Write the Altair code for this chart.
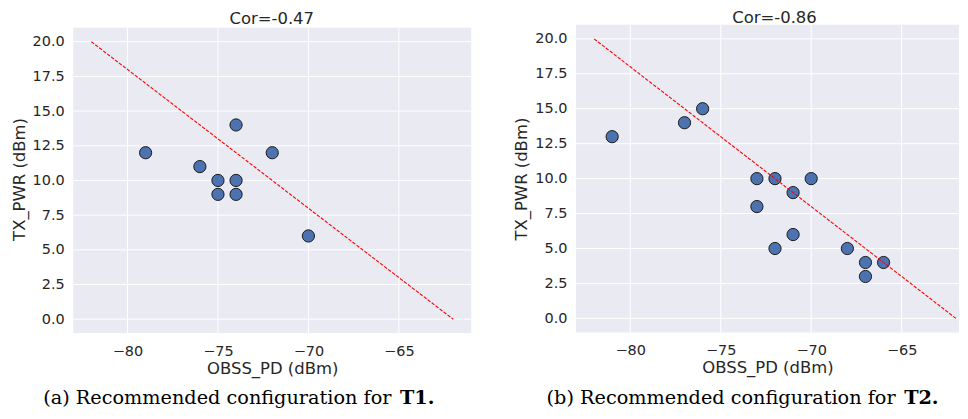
import altair as alt
import pandas as pd

# ---- data ----
t1_obss = [-79, -76, -75, -75, -74, -74, -74, -72, -70]
t1_pwr = [12, 11, 10, 9, 14, 10, 9, 12, 6]
t2_obss = [-81, -77, -76, -73, -73, -72, -72, -71, -71, -70, -68, -67, -67, -66]
t2_pwr = [13, 14, 15, 10, 8, 10, 5, 9, 6, 10, 5, 4, 3, 4]
fit_obss = [-82, -62]
fit_pwr = [20, 0]
titles = ["Cor=-0.47", "Cor=-0.86"]
caption_prefix = ["(a) Recommended configuration for", "(b) Recommended configuration for"]
caption_bold = ["T1.", "T2."]
x_ticks = [-80, -75, -70, -65]
y_ticks = [0, 2.5, 5, 7.5, 10, 12.5, 15, 17.5, 20]
x_domain = [-83, -61]
y_domain = [-1, 21]

TEXT = "#262626"
FONT = "DejaVu Sans"
SERIF = "DejaVu Serif"
BG = "#EAEAF2"


def panel(obss, pwr, title, prefix, bold, width, height, x_view_max, y_view_max,
          title_y, cap_x, cap_y):
    pts = pd.DataFrame({"obss": obss, "pwr": pwr})
    fit = pd.DataFrame({"obss": fit_obss, "pwr": fit_pwr})
    one = pd.DataFrame({"k": [0]})
    x_end = min(x_domain[1], x_view_max)
    xs = alt.Scale(domain=[x_domain[0], x_view_max], nice=False, zero=False)
    ys = alt.Scale(domain=[y_domain[0], y_view_max], nice=False, zero=False)
    xa = alt.Axis(values=x_ticks, title="OBSS_PD (dBm)",
                  labelExpr="replace(format(datum.value, 'd'), '-', '\u2212')")
    ya = alt.Axis(values=y_ticks, format=".1f", title="TX_PWR (dBm)")

    def xf(f):
        return alt.X(f, type="quantitative", scale=xs, axis=xa)

    def yf(f):
        return alt.Y(f, type="quantitative", scale=ys, axis=ya)

    def xd(v):
        return alt.X(datum=v, type="quantitative", scale=xs, axis=xa)

    def yd(v):
        return alt.Y(datum=v, type="quantitative", scale=ys, axis=ya)

    bg = alt.Chart(one).mark_rect(color=BG).encode(
        x=xd(x_domain[0]), x2=alt.X2(datum=x_end),
        y=yd(y_domain[0]), y2=alt.Y2(datum=y_domain[1]))
    vgrid = alt.Chart(pd.DataFrame({"v": x_ticks})).mark_rule(
        color="white", strokeWidth=1).encode(
        x=xf("v"), y=yd(y_domain[0]), y2=alt.Y2(datum=y_domain[1]))
    hgrid = alt.Chart(pd.DataFrame({"h": y_ticks})).mark_rule(
        color="white", strokeWidth=1).encode(
        y=yf("h"), x=xd(x_domain[0]), x2=alt.X2(datum=x_end))
    points = alt.Chart(pts).mark_circle(
        size=150, color="#4C72B0", opacity=1, stroke="#1a1a1a", strokeWidth=1
    ).encode(x=xf("obss"), y=yf("pwr"))
    line = alt.Chart(fit).mark_line(
        color="#ff0000", strokeWidth=1.1, strokeDash=[3.5, 1.5]
    ).encode(x=xf("obss"), y=yf("pwr"))
    ttl = alt.Chart(pd.DataFrame({"t": [title]})).mark_text(
        align="center", baseline="alphabetic", font=FONT, fontSize=16.5, color=TEXT
    ).encode(text="t:N", x=alt.value(199), y=alt.value(title_y))
    cap_a = alt.Chart(pd.DataFrame({"t": [prefix]})).mark_text(
        align="right", baseline="alphabetic", font=SERIF, fontSize=19.3, color="black"
    ).encode(text="t:N", x=alt.value(cap_x), y=alt.value(cap_y))
    cap_b = alt.Chart(pd.DataFrame({"t": [bold]})).mark_text(
        align="left", baseline="alphabetic", font=SERIF, fontSize=19.3,
        fontWeight="bold", color="black", dx=8.5
    ).encode(text="t:N", x=alt.value(cap_x), y=alt.value(cap_y))
    return alt.layer(bg, vgrid, hgrid, points, line, ttl, cap_a, cap_b).properties(
        width=width, height=height)


# left panel: a little white above its grey area, so that it sits lower than the right one
left = panel(t1_obss, t1_pwr, titles[0], caption_prefix[0], caption_bold[0],
             399, 309, -61, 21.216, -1.3, 319, 380)
right = panel(t2_obss, t2_pwr, titles[1], caption_prefix[1], caption_bold[1],
              384, 308.3, -61.83, 21, -2.3, 320.5, 380)

chart = alt.hconcat(left, right, spacing=41).properties(
    padding={"left": 2.4, "top": 0.4, "right": 0, "bottom": 0}
).configure(background="white").configure_view(
    strokeWidth=0
).configure_axis(
    grid=False, domain=False, ticks=False, tickSize=0,
    labelFont=FONT, labelFontSize=14.5, labelColor=TEXT, labelPadding=9,
    titleFont=FONT, titleFontSize=16.5, titleFontWeight="normal", titleColor=TEXT,
).configure_axisX(labelPadding=11, titlePadding=3).configure_axisY(titlePadding=5)

chart.save("out.html", embed_options={"renderer": "svg", "actions": False})
